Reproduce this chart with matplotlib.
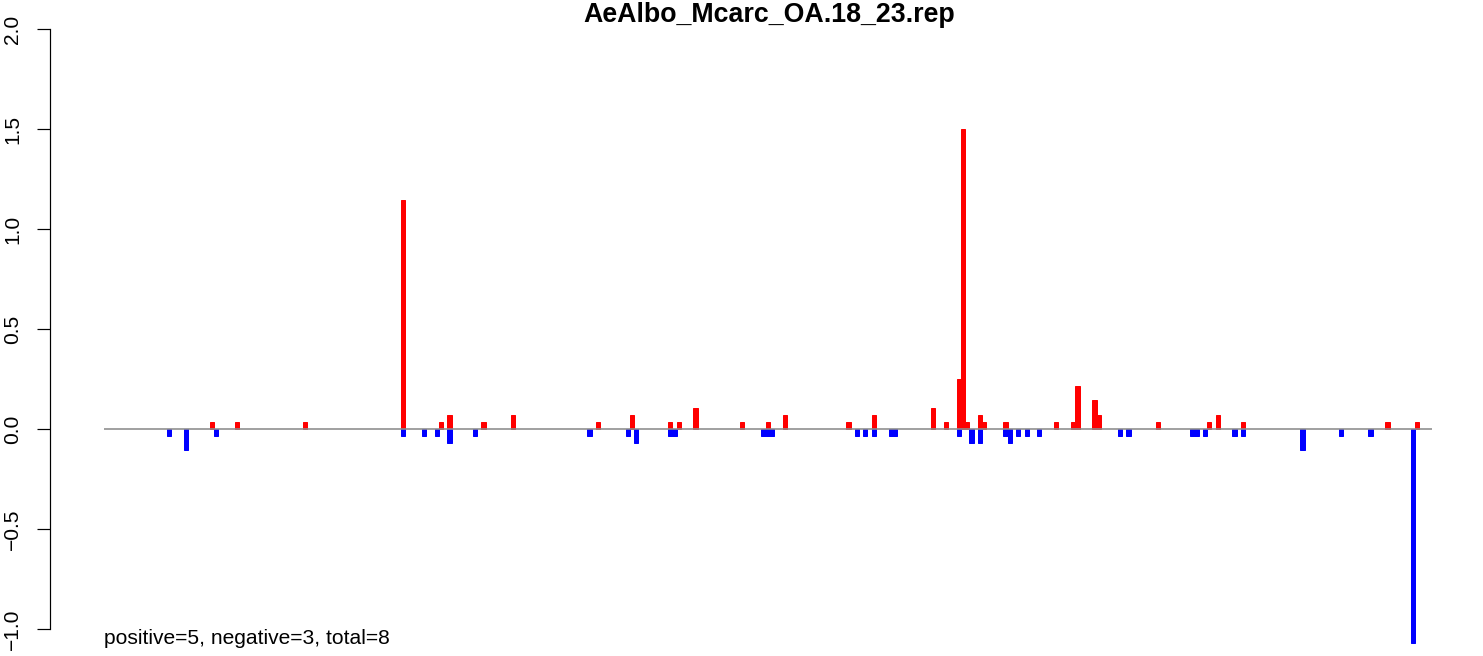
import matplotlib
matplotlib.use("Agg")
import matplotlib.pyplot as plt

# ---- data (bin index 0..312, values) ----
n_bins = 313
title = "AeAlbo_Mcarc_OA.18_23.rep"
note = "positive=5, negative=3, total=8"

pos_bins = [25, 31, 47, 70, 79, 81, 89, 96, 116, 124, 133, 135, 139, 150, 156,
            160, 175, 181, 195, 198, 201, 202, 203, 206, 207, 212, 224, 228,
            229, 233, 234, 248, 260, 262, 268, 302, 309]
pos_vals = [0.036, 0.036, 0.036, 1.143, 0.036, 0.071, 0.036, 0.071, 0.036,
            0.071, 0.036, 0.036, 0.107, 0.036, 0.036, 0.071, 0.036, 0.071,
            0.107, 0.036, 0.25, 1.5, 0.036, 0.071, 0.036, 0.036, 0.036, 0.036,
            0.214, 0.143, 0.071, 0.036, 0.036, 0.071, 0.036, 0.036, 0.036]

neg_bins = [15, 19, 26, 70, 75, 78, 81, 87, 114, 123, 125, 133, 134, 155, 156,
            157, 177, 179, 181, 185, 186, 201, 204, 206, 212, 213, 215, 217,
            220, 239, 241, 256, 257, 259, 266, 268, 282, 291, 298, 308]
neg_vals = [-0.036, -0.107, -0.036, -0.036, -0.036, -0.036, -0.071, -0.036,
            -0.036, -0.036, -0.071, -0.036, -0.036, -0.036, -0.036, -0.036,
            -0.036, -0.036, -0.036, -0.036, -0.036, -0.036, -0.071, -0.071,
            -0.036, -0.071, -0.036, -0.036, -0.036, -0.036, -0.036, -0.036,
            -0.036, -0.036, -0.036, -0.036, -0.107, -0.036, -0.036, -1.071]

y_ticks = [-1.0, -0.5, 0.0, 0.5, 1.0, 1.5, 2.0]
y_tick_labels = ["\u22121.0", "\u22120.5", "0.0", "0.5", "1.0", "1.5", "2.0"]

# ---- figure ----
W, H, DPI = 1483, 656, 100
plt.rcParams['font.family'] = ['Liberation Sans', 'DejaVu Sans']
fig = plt.figure(figsize=(W / DPI, H / DPI), dpi=DPI)

left_px, right_px = 50.4, 1485.1
top_px, bot_px = 5, 653
ax = fig.add_axes([left_px / W, (H - bot_px) / H,
                   (right_px - left_px) / W, (bot_px - top_px) / H])
pad = 0.04 * n_bins
ax.set_xlim(-pad, n_bins + pad)
ax.set_ylim(-1.12, 2.12)

px = 72.0 / DPI  # points per pixel
ax.bar(pos_bins, pos_vals, width=1, align='edge', color='#ff0000',
       edgecolor='#ff0000', linewidth=1 * px, zorder=2)
ax.bar(neg_bins, neg_vals, width=1, align='edge', color='#0000ff',
       edgecolor='#0000ff', linewidth=1 * px, zorder=2)
ax.plot([0, n_bins], [0, 0], color='#8c8c8c', linewidth=1.6 * px, zorder=3,
        solid_capstyle='butt')

for s in ['top', 'right', 'bottom']:
    ax.spines[s].set_visible(False)
ax.spines['left'].set_bounds(-1, 2)
ax.spines['left'].set_linewidth(1.2 * px)
ax.set_xticks([])
ax.set_yticks(y_ticks)
ax.set_yticklabels(y_tick_labels, rotation=90, va='center', ha='right')
ax.tick_params(axis='y', length=13 * px, width=1.2 * px, pad=15 * px,
               labelsize=21 * px, direction='out')

ax.text(0, -1.075, note, ha='left', va='baseline', fontsize=21 * px)
fig.text(769.5 / W, 1 - 2 / H, title, ha='center', va='top',
         fontsize=26.7 * px, fontweight='bold')

fig.savefig('out.png', dpi=DPI)
